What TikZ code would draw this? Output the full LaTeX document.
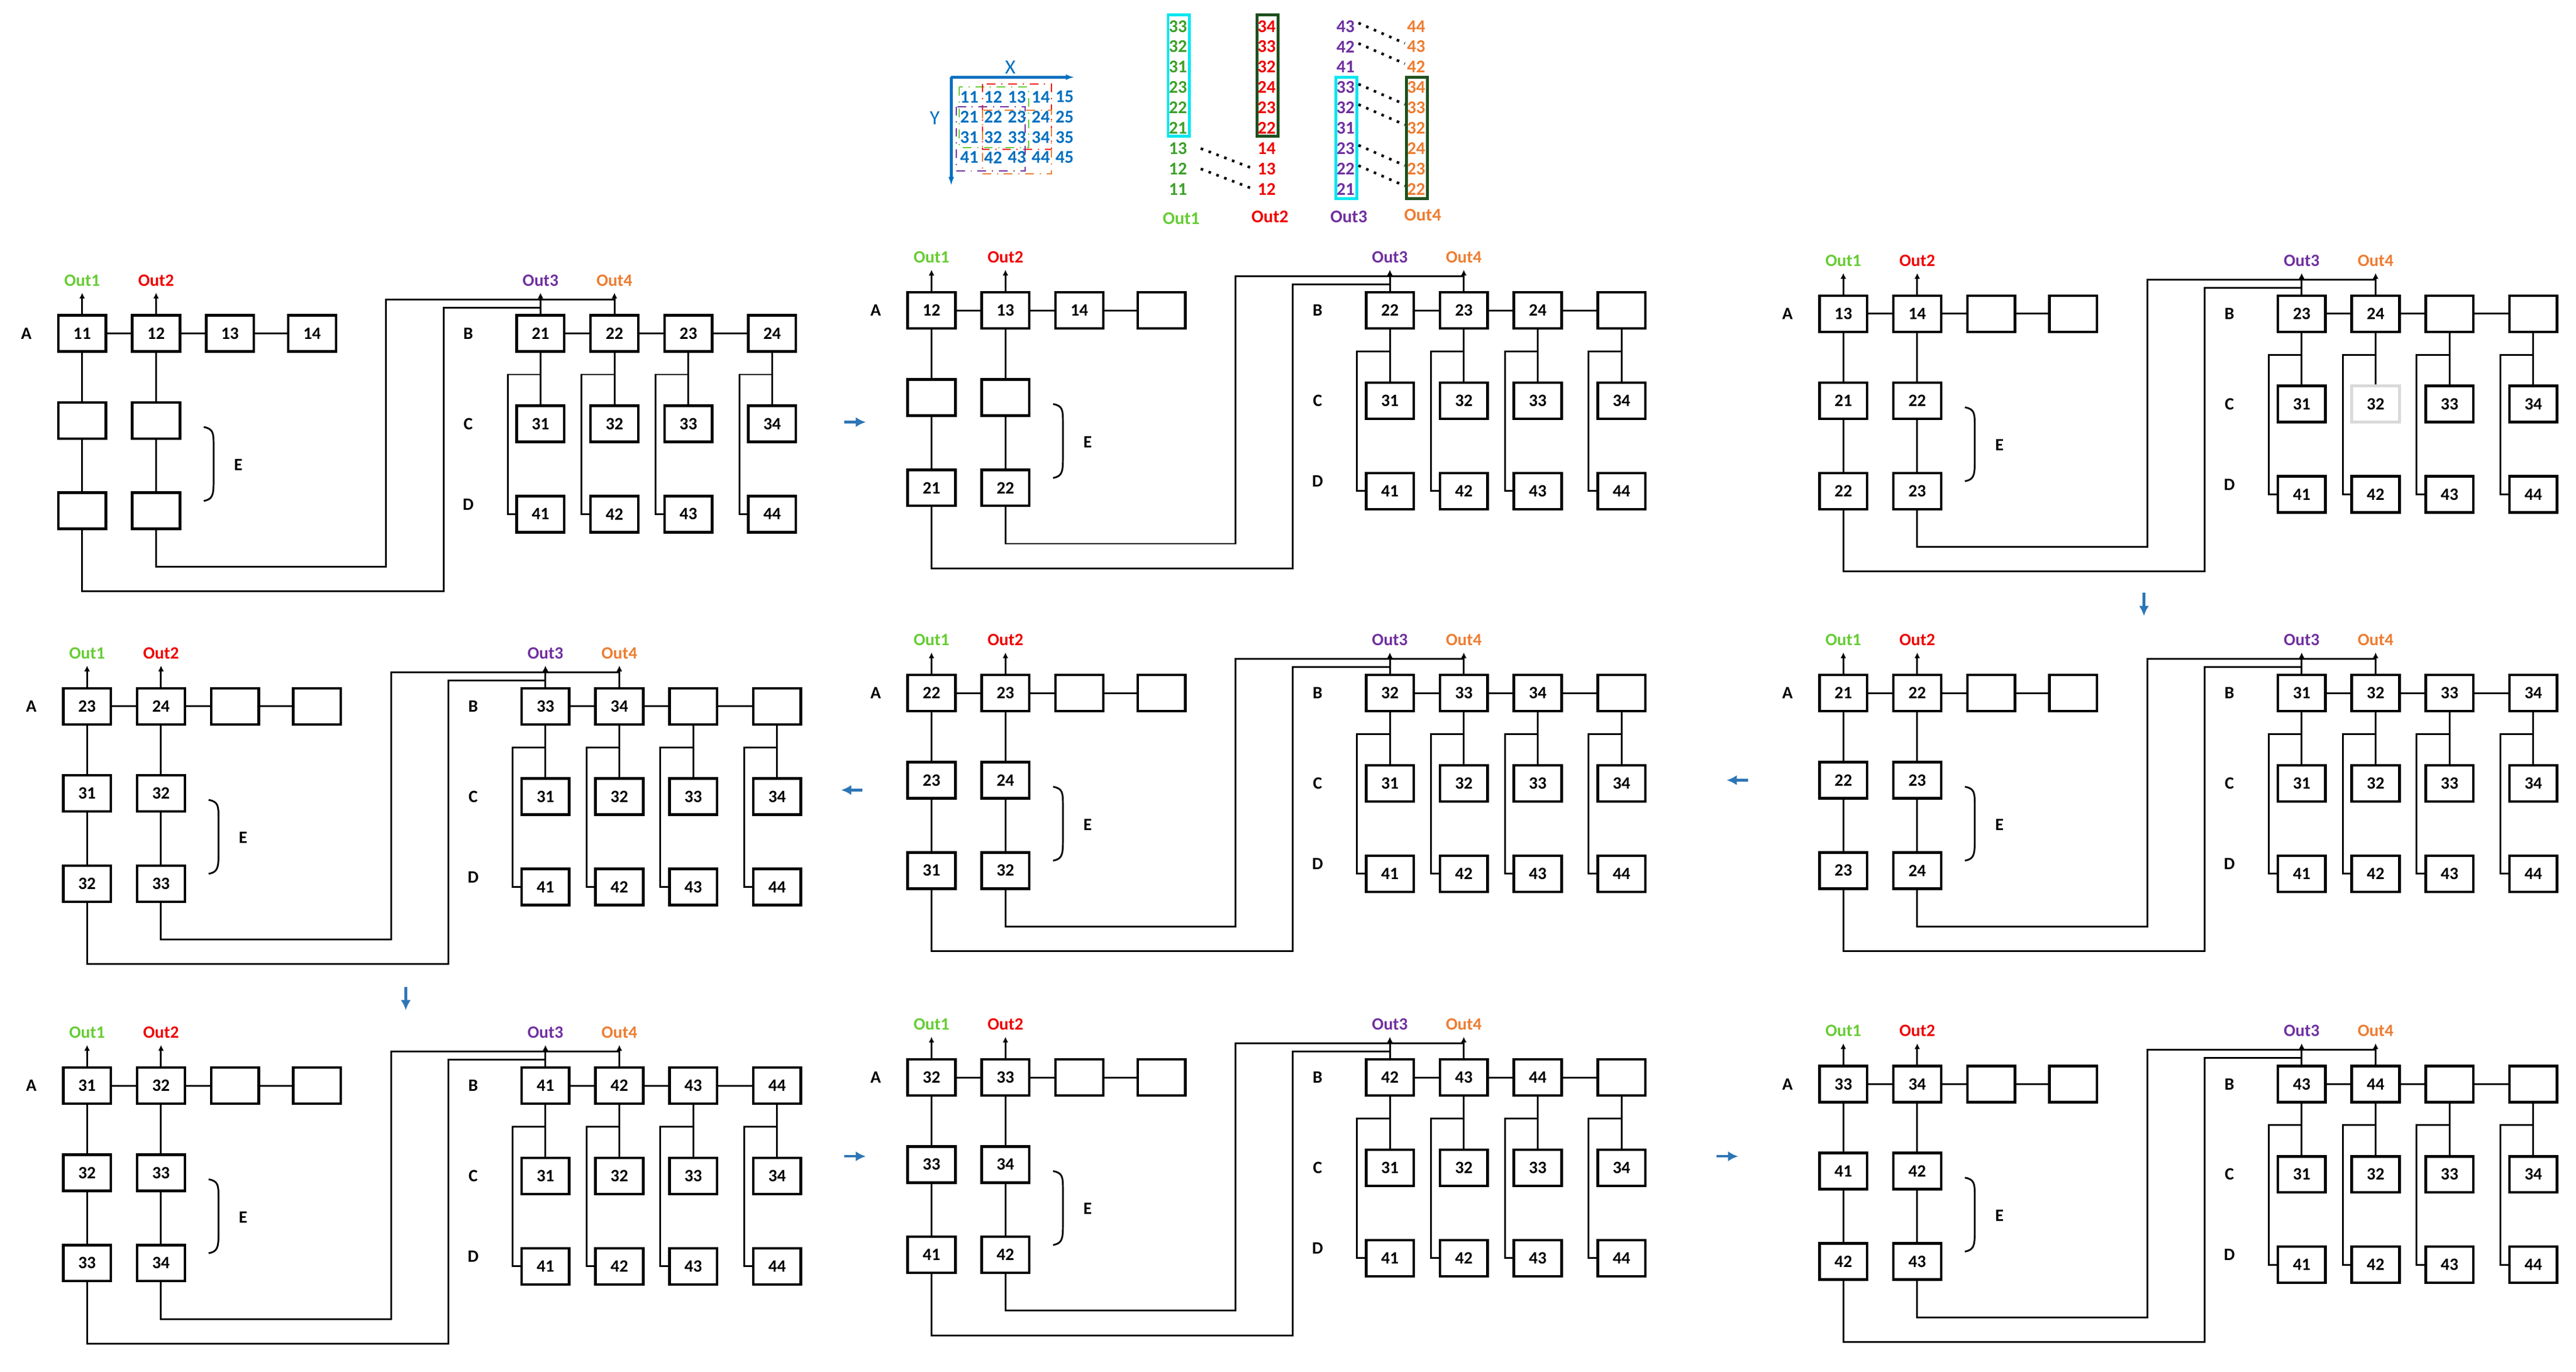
\documentclass[tikz,border=0pt]{standalone}
\usepackage{fontspec}
\setmainfont{Carlito}
\usetikzlibrary{calc,arrows.meta}
\definecolor{cOne}{RGB}{102,204,51}
\definecolor{cOneD}{RGB}{60,160,40}
\definecolor{cTwo}{RGB}{240,0,0}
\definecolor{cThree}{RGB}{112,48,160}
\definecolor{cFour}{RGB}{237,125,49}
\definecolor{cBlue}{RGB}{0,112,192}
\definecolor{cArr}{RGB}{46,117,182}
\definecolor{cCyan}{RGB}{0,230,240}
\definecolor{cDark}{RGB}{30,80,30}
\tikzset{
  box/.style={draw,line width=0.9pt,minimum width=0.58cm,minimum height=0.44cm,inner sep=0pt,font=\fontsize{6}{7}\selectfont\bfseries},
  lab/.style={font=\fontsize{6}{7}\selectfont\bfseries,inner sep=1pt},
  outlab/.style={font=\fontsize{6}{7}\selectfont\bfseries,inner sep=2pt,above},
  wire/.style={line width=0.6pt},
  nextstep/.style={cArr,line width=0.9pt,-{Latex[length=3.5pt,width=3.5pt]}},
  num/.style={font=\fontsize{6.2}{7}\selectfont\bfseries,inner sep=0pt},
  dotl/.style={dotted,line width=0.9pt},
}
% one step of the schedule: name, x, y, A row, E cells, B row, C row, grey C cell
\newcommand\panel[8]{%
\begin{scope}[shift={(#2,#3)},name prefix=#1-]
  \node[lab] (lA) at (0,0) {A};
  \node[lab] (lB) at (269,0) {B};
  \node[lab] (lC) at (269,55) {C};
  \node[lab] (lD) at (269,104) {D};
  \foreach \t [count=\i from 0] in {#4} {
    \pgfmathsetmacro\xx{{34,79,124,174}[\i]}
    \node[box] (a\i) at (\xx,0) {\t};
  }
  \foreach \t [count=\i from 0] in {#5} {
    \pgfmathsetmacro\xx{{34,79,34,79}[\i]}
    \pgfmathsetmacro\yy{{53,53,108,108}[\i]}
    \node[box] (e\i) at (\xx,\yy) {\t};
  }
  \foreach \t [count=\i from 0] in {#6} {
    \pgfmathsetmacro\xx{{313,358,403,454}[\i]}
    \node[box] (b\i) at (\xx,0) {\t};
  }
  \foreach \t [count=\i from 0] in {#7} {
    \pgfmathsetmacro\xx{{313,358,403,454}[\i]}
    \ifnum\i=#8 \tikzset{cur/.style={draw=gray!30}}\else\tikzset{cur/.style={}}\fi
    \node[box,cur] (c\i) at (\xx,55) {\t};
  }
  \foreach \t [count=\i from 0] in {41,42,43,44} {
    \pgfmathsetmacro\xx{{313,358,403,454}[\i]}
    \node[box] (d\i) at (\xx,110) {\t};
  }
  \foreach \i/\j in {0/1,1/2,2/3} {
    \draw[wire] (a\i) -- (a\j);
    \draw[wire] (b\i) -- (b\j);
  }
  \foreach \i in {0,1,2,3} {
    \draw[wire] (b\i) -- (c\i);
    \draw[wire] ($(b\i)+(0,25)$) -- ++(-20,0) |- (d\i.west);
  }
  \draw[wire] (a0) -- (e0) -- (e2);
  \draw[wire] (a1) -- (e1) -- (e3);
  \draw[wire,-{Latex[length=2pt,width=2pt]}] (a0.north) -- ++(0,-13) node[outlab,cOne] (o1) {Out1};
  \draw[wire,-{Latex[length=2pt,width=2pt]}] (a1.north) -- ++(0,-13) node[outlab,cTwo] (o2) {Out2};
  \draw[wire,-{Latex[length=2pt,width=2pt]}] (b0.north) -- ++(0,-13) node[outlab,cThree] (o3) {Out3};
  \draw[wire,-{Latex[length=2pt,width=2pt]}] (b1.north) -- ++(0,-13) node[outlab,cFour] (o4) {Out4};
  \coordinate (j3) at ($(b0.north)+(0,-4)$);
  \coordinate (j4) at ($(b1.north)+(0,-9)$);
  \draw[wire] (e3.south) |- (219,142) |- (j4);
  \draw[wire] (e2.south) |- (254,157) |- (j3);
  \draw[wire] (108,57) .. controls (114,58) and (114,61) .. (114,68) -- (114,91)
    .. controls (114,99) and (113,101) .. (108,102);
  \node[lab] (lE) at (129,80) {E};
\end{scope}}
\begin{document}
\begin{tikzpicture}[x=0.02cm,y=-0.02cm]
\useasboundingbox (0,0) rectangle (1568,835);
% input grid
\draw[cBlue,line width=1pt,-{Latex[length=3pt,width=2pt]}] (579,47) -- (654,47);
\draw[cBlue,line width=1pt,-{Latex[length=3pt,width=2pt]}] (579,47) -- (579,113);
\node[num,cBlue,font=\fontsize{7}{8}\selectfont] (gx) at (615,41) {X};
\node[num,cBlue,font=\fontsize{7}{8}\selectfont] (gy) at (569,72) {Y};
\foreach \r [count=\i from 0] in {1,2,3,4}
  \foreach \c [count=\j from 0] in {1,2,3,4,5} {
    \pgfmathsetmacro\xx{590+14.5*\j}
    \pgfmathsetmacro\yy{59+12.3*\i}
    \node[num,cBlue] (g\r\c) at (\xx,\yy) {\r\c};
  }
\draw[cOne,dash dot,line width=0.4pt] (584,53) rectangle (626,90);
\draw[cTwo,dash dot,line width=0.4pt] (598,51) rectangle (640,91);
\draw[cThree,dash dot,line width=0.4pt] (582,65) rectangle (624,104);
\draw[cFour,dash dot,line width=0.4pt] (598,67) rectangle (640,106);
% output columns
\foreach \t [count=\i from 0] in {33,32,31,23,22,21,13,12,11} {
  \pgfmathsetmacro\yy{16+12.4*\i}
  \node[num,cOneD] (l1-\t) at (717,\yy) {\t};
}
\foreach \t [count=\i from 0] in {34,33,32,24,23,22,14,13,12} {
  \pgfmathsetmacro\yy{16+12.4*\i}
  \node[num,cTwo] (l2-\t) at (771,\yy) {\t};
}
\foreach \t [count=\i from 0] in {43,42,41,33,32,31,23,22,21} {
  \pgfmathsetmacro\yy{16+12.4*\i}
  \node[num,cThree] (l3-\t) at (819,\yy) {\t};
}
\foreach \t [count=\i from 0] in {44,43,42,34,33,32,24,23,22} {
  \pgfmathsetmacro\yy{16+12.4*\i}
  \node[num,cFour] (l4-\t) at (862,\yy) {\t};
}
\draw[cCyan,line width=1pt] (711,9) rectangle (724,83);
\draw[cDark,line width=1pt] (765,9) rectangle (778,83);
\draw[cCyan,line width=1pt] (813,47) rectangle (826,121);
\draw[cDark,line width=1pt] (856,47) rectangle (869,121);
\foreach \t in {13,12} \draw[dotl] ($(l1-\t.east)+(8,0)$) -- ($(l2-\t.west)+(-2,0)$);
\foreach \t in {43,42,33,32,23,22} \draw[dotl] ($(l3-\t.east)+(2,-2)$) -- ($(l4-\t.west)+(-1,-2)$);
\node[num,cOne] (t1) at (719,133) {Out1};
\node[num,cTwo] (t2) at (773,132) {Out2};
\node[num,cThree] (t3) at (821,132) {Out3};
\node[num,cFour] (t4) at (866,131) {Out4};
% the nine steps
\panel{p1}{16}{203}{11,12,13,14}{{},{},{},{}}{21,22,23,24}{31,32,33,34}{-1}
\panel{p2}{533}{189}{12,13,14,{}}{{},{},21,22}{22,23,24,{}}{31,32,33,34}{-1}
\panel{p3}{1088}{191}{13,14,{},{}}{21,22,22,23}{23,24,{},{}}{31,32,33,34}{1}
\panel{p4}{19}{430}{23,24,{},{}}{31,32,32,33}{33,34,{},{}}{31,32,33,34}{-1}
\panel{p5}{533}{422}{22,23,{},{}}{23,24,31,32}{32,33,34,{}}{31,32,33,34}{-1}
\panel{p6}{1088}{422}{21,22,{},{}}{22,23,23,24}{31,32,33,34}{31,32,33,34}{-1}
\panel{p7}{19}{661}{31,32,{},{}}{32,33,33,34}{41,42,43,44}{31,32,33,34}{-1}
\panel{p8}{533}{656}{32,33,{},{}}{33,34,41,42}{42,43,44,{}}{31,32,33,34}{-1}
\panel{p9}{1088}{660}{33,34,{},{}}{41,42,42,43}{43,44,{},{}}{31,32,33,34}{-1}
% order of the steps
\draw[nextstep] (514,257) -- (527,257);
\draw[nextstep] (1305,361) -- (1305,375);
\draw[nextstep] (1064,475) -- (1051,475);
\draw[nextstep] (525,481) -- (512,481);
\draw[nextstep] (247,601) -- (247,615);
\draw[nextstep] (514,704) -- (527,704);
\draw[nextstep] (1045,704) -- (1058,704);
\end{tikzpicture}
\end{document}
